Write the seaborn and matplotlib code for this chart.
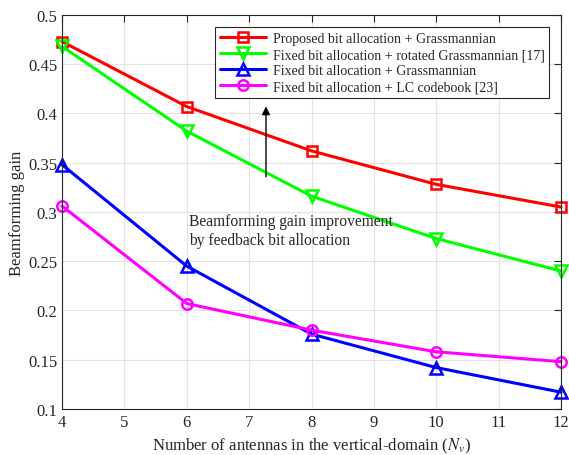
import matplotlib
matplotlib.use('Agg')
import matplotlib.pyplot as plt
import pandas as pd
import seaborn as sns

# Data
antennas = [4, 6, 8, 10, 12]
proposed = [0.473, 0.407, 0.362, 0.328, 0.305]
fixed_rotated = [0.468, 0.382, 0.316, 0.273, 0.240]
fixed_grass = [0.348, 0.245, 0.176, 0.142, 0.117]
fixed_lc = [0.306, 0.207, 0.180, 0.158, 0.148]

labels = ['Proposed bit allocation + Grassmannian',
          'Fixed bit allocation + rotated Grassmannian [17]',
          'Fixed bit allocation + Grassmannian',
          'Fixed bit allocation + LC codebook [23]']

sns.set_style('whitegrid')
plt.rcParams['font.family'] = ['Liberation Serif', 'DejaVu Serif']
plt.rcParams['mathtext.fontset'] = 'stix'

df = pd.DataFrame({'N': antennas * 4,
                   'gain': proposed + fixed_rotated + fixed_grass + fixed_lc,
                   'scheme': sum([[l] * len(antennas) for l in labels], [])})

colors = ['#ff0000', '#00ff00', '#0000ff', '#ff00ff']
markers = ['s', 'v', '^', 'o']
msizes = [6.5, 8, 8, 7.5]

fig = plt.figure(figsize=(5.69, 4.56), dpi=100)
ax = fig.add_axes([0.109, 0.101, 0.877, 0.864])

for lab, c, m, ms in zip(labels, colors, markers, msizes):
    sub = df[df['scheme'] == lab]
    sns.lineplot(data=sub, x='N', y='gain', ax=ax, color=c, marker=m,
                 markersize=ms, markerfacecolor='none', markeredgecolor=c,
                 markeredgewidth=1.8, linewidth=2.2, label=lab, clip_on=False)

ax.set_xlim(4, 12)
ax.set_ylim(0.1, 0.5)
ax.set_xticks(range(4, 13))
ax.set_yticks([0.1, 0.15, 0.2, 0.25, 0.3, 0.35, 0.4, 0.45, 0.5])
ax.set_yticklabels(['0.1', '0.15', '0.2', '0.25', '0.3', '0.35', '0.4', '0.45', '0.5'])
ax.tick_params(direction='in', top=True, right=True, length=5, labelsize=12,
               colors='#262626', width=0.8)
ax.grid(True, color='#e3e3e3', linewidth=0.8)
for s in ax.spines.values():
    s.set_color('#262626')
    s.set_linewidth(0.8)

ax.set_xlabel('Number of antennas in the vertical-domain ($N_v$)', fontsize=12)
ax.set_ylabel('Beamforming gain', fontsize=12, labelpad=2)

ax.annotate('', xy=(7.27, 0.41), xytext=(7.27, 0.333),
            arrowprops=dict(arrowstyle='-|>', color='black', lw=1.0,
                            mutation_scale=12))
ax.text(6.03, 0.281, 'Beamforming gain improvement\nby feedback bit allocation',
        fontsize=11.2, va='center', ha='left', linespacing=1.3)

leg = ax.legend(loc='upper right', bbox_to_anchor=(0.982, 0.976), fontsize=10,
                frameon=True, fancybox=False, framealpha=1, borderpad=0.35,
                handlelength=3.3, labelspacing=0.22, handletextpad=0.5,
                borderaxespad=0.2)
leg.get_frame().set_edgecolor('#262626')
leg.get_frame().set_linewidth(0.8)

fig.savefig('out.png', dpi=100)
